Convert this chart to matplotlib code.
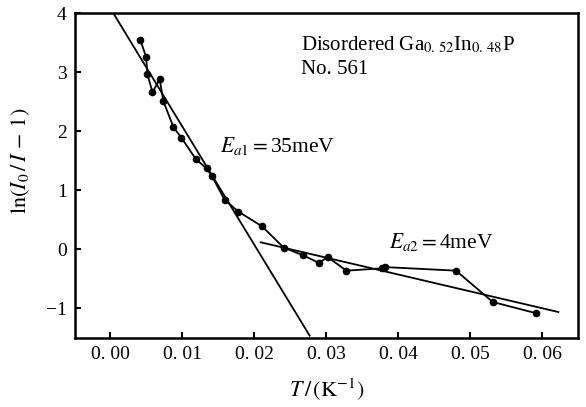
# Recreación de la gráfica ln(I0/I-1) frente a 1/T
import matplotlib
matplotlib.use("Agg")
import matplotlib.pyplot as plt

plt.rcParams['font.family'] = ['Liberation Serif', 'DejaVu Serif']
plt.rcParams['mathtext.fontset'] = 'stix'

# Datos
t_inv = [0.0042, 0.0050, 0.0052, 0.0059, 0.0069, 0.0074, 0.0088, 0.0099,
         0.0119, 0.0134, 0.0141, 0.0159, 0.0178, 0.0211, 0.0241, 0.0268,
         0.0290, 0.0302, 0.0328, 0.0378, 0.0382, 0.0480, 0.0531, 0.0591]
ln_ratio = [3.55, 3.26, 2.96, 2.66, 2.88, 2.51, 2.07, 1.89,
            1.53, 1.37, 1.25, 0.84, 0.64, 0.39, 0.03, -0.10,
            -0.23, -0.13, -0.36, -0.32, -0.30, -0.36, -0.89, -1.08]

# Rectas de ajuste (extremos)
fit1_x = [0.0000, 0.0277]
fit1_y = [4.09, -1.46]
fit2_x = [0.0209, 0.0622]
fit2_y = [0.12, -1.06]

xticks = [0.00, 0.01, 0.02, 0.03, 0.04, 0.05, 0.06]
xtick_labels = ["0. 00", "0. 01", "0. 02", "0. 03", "0. 04", "0. 05", "0. 06"]
yticks = [-1, 0, 1, 2, 3, 4]
ytick_labels = ["\u22121", "0", "1", "2", "3", "4"]

fig = plt.figure(figsize=(5.86, 4.07), dpi=100)
ax = fig.add_axes([0.128, 0.1695, 0.858, 0.7985])

ax.plot(t_inv, ln_ratio, color='black', linewidth=1.3, marker='o', markersize=4.5)
ax.plot(fit1_x, fit1_y, color='black', linewidth=1.3)
ax.plot(fit2_x, fit2_y, color='black', linewidth=1.3)

ax.set_xlim(-0.00485, 0.0649)
ax.set_ylim(-1.5, 4)
ax.set_xticks(xticks)
ax.set_xticklabels(xtick_labels)
ax.set_yticks(yticks)
ax.set_yticklabels(ytick_labels)
ax.tick_params(direction='in', length=4, width=1.5, labelsize=14, pad=6)
for s in ax.spines.values():
    s.set_linewidth(1.8)

ax.set_xlabel(r"$T\,/\,(\mathrm{K}^{-1})$", fontsize=16)
ax.xaxis.set_label_coords(0.5, -0.118)
ax.set_ylabel(r"$\mathrm{ln}(I_0\,/\,I\,-\,1)$", fontsize=16)
ax.yaxis.set_label_coords(-0.085, 0.545)

ax.text(0.0265, 3.37, r"Disordered Ga$_{0.\,52}$In$_{0.\,48}$P", fontsize=15)
ax.text(0.0265, 2.97, "No. 561", fontsize=15)
ax.text(0.0152, 1.65, r"$E_{a1}=$35meV", fontsize=15.5)
ax.text(0.0387, 0.02, r"$E_{a2}=$4meV", fontsize=15.5)

plt.savefig("out.png", dpi=100)
